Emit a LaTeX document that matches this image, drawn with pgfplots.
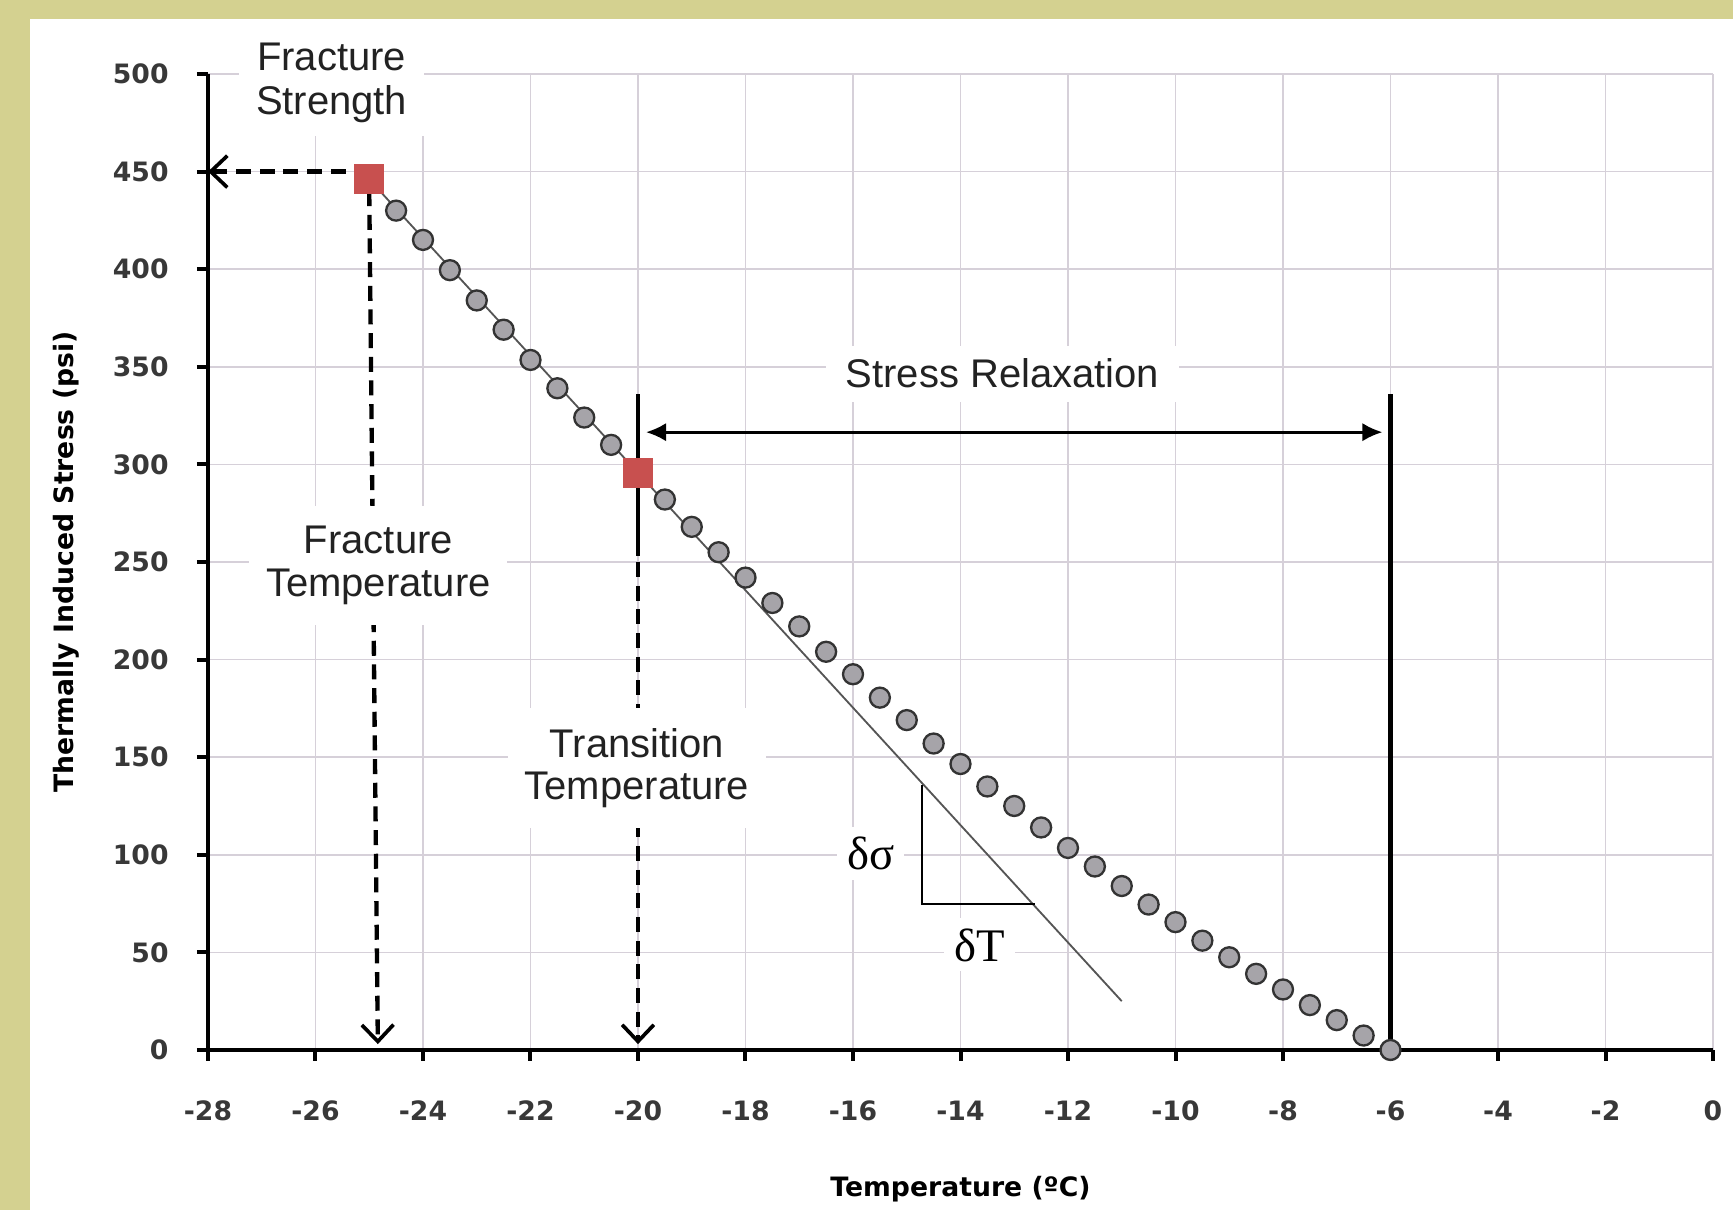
\documentclass[border=0pt]{standalone}
\usepackage{pgfplots}
\pgfplotsset{compat=1.18}
\usepackage{fontspec}
\setmainfont{Liberation Sans}
\newfontfamily\dvs{DejaVu Sans}
\newfontfamily\serif{Liberation Serif}
\usetikzlibrary{arrows.meta}

\definecolor{olive}{HTML}{D4D190}
\definecolor{gridc}{HTML}{D6D0D9}
\definecolor{markfill}{HTML}{A6A4A9}
\definecolor{markedge}{HTML}{333333}
\definecolor{sqred}{HTML}{C8504F}
\definecolor{slope}{HTML}{555555}
\definecolor{txt}{HTML}{222222}

\begin{document}
\begin{tikzpicture}
% page background with olive border strips
\fill[olive] (0,0) rectangle (519.9pt,363pt);
\fill[white] (9pt,0) rectangle (519.9pt,357.3pt);

\begin{axis}[
  at={(62.4pt,48pt)}, anchor=south west,
  width=451.5pt, height=292.8pt, scale only axis,
  xmin=-28, xmax=0, ymin=0, ymax=500,
  xtick={-28,-26,...,0}, ytick={0,50,...,500},
  axis x line*=bottom, axis y line*=left,
  axis line style={line width=1.4pt, black},
  grid=major, major grid style={gridc, line width=0.5pt},
  tick align=outside, major tick length=3.3pt,
  tick style={black, line width=1.2pt},
  /pgf/number format/assume math mode=true,
  ticklabel style={font=\dvs\bfseries\fontsize{8}{9}\selectfont, text=black!78},
  xticklabel style={anchor=center, yshift=-15pt},
  yticklabel style={anchor=east, xshift=-5pt},
  xlabel={Temperature (ºC)},
  ylabel={Thermally Induced Stress (psi)},
  label style={font=\dvs\bfseries\fontsize{8}{9}\selectfont, text=black},
  xlabel style={at={(axis description cs:0.5,-0.143)}, anchor=center},
  ylabel style={at={(axis description cs:-0.094,0.5)}, anchor=center},
  clip=false,
]

% measured thermal stress
\addplot[only marks, mark=*, mark size=3pt,
  mark options={fill=markfill, draw=markedge, line width=0.7pt}]
  coordinates {
  (-24.5,430) (-24,415) (-23.5,399.5) (-23,384) (-22.5,369) (-22,353.5)
  (-21.5,339) (-21,324) (-20.5,310)
  (-19.5,282) (-19,268) (-18.5,255) (-18,242) (-17.5,229) (-17,217)
  (-16.5,204) (-16,192.5) (-15.5,180.5) (-15,169) (-14.5,157) (-14,146.5)
  (-13.5,135) (-13,125) (-12.5,114) (-12,103.5) (-11.5,94) (-11,84)
  (-10.5,74.5) (-10,65.5) (-9.5,56) (-9,47.5) (-8.5,39) (-8,31)
  (-7.5,23) (-7,15.3) (-6.5,7.4) (-6,0)
  };

% fracture and transition points
\addplot[only marks, mark=square*, mark size=4.3pt,
  mark options={fill=sqred, draw=sqred}]
  coordinates {(-25,446) (-20,295.6)};

% linear (elastic) trend
\addplot[slope, line width=0.55pt] coordinates {(-25,446) (-11,25)};

% fracture strength / temperature guides
\draw[black, line width=1.3pt, dash pattern=on 4.5pt off 2.6pt,
  -{Straight Barb[length=5pt, width=9.5pt, line width=1.1pt]}]
  (-25,450) -- (-28,450);
\draw[black, line width=1.3pt, dash pattern=on 4.5pt off 2.6pt,
  -{Straight Barb[length=5pt, width=9.5pt, line width=1.1pt]}]
  (-25,440) -- (-24.84,3);

% transition temperature
\draw[black, line width=1.3pt] (-20,336) -- (-20,253);
\draw[black, line width=1.3pt, dash pattern=on 4.5pt off 2.6pt,
  -{Straight Barb[length=5pt, width=9.5pt, line width=1.1pt]}]
  (-20,250) -- (-20,3);

% stress relaxation span
\draw[black, line width=1.4pt] (-6,336) -- (-6,0);
\draw[black, line width=0.8pt,
  {Latex[length=6pt, width=5.5pt]}-{Latex[length=6pt, width=5.5pt]}]
  (-19.85,316.5) -- (-6.15,316.5);

% labels
\node[fill=white, text=txt, align=center, inner xsep=5pt, inner ysep=4pt,
  font=\fontsize{12}{13.2}\selectfont] at (-25.7,495.5) {Fracture\\Strength};
\node[fill=white, text=txt, align=center, inner xsep=5pt, inner ysep=6pt,
  font=\fontsize{12}{12.8}\selectfont] at (-24.83,248.3) {Fracture\\Temperature};
\node[fill=white, text=txt, align=center, inner xsep=5pt, inner ysep=6pt,
  font=\fontsize{12}{12.8}\selectfont] at (-20.02,144.4) {Transition\\Temperature};
\node[fill=white, text=txt, inner xsep=6pt, inner ysep=4pt,
  font=\fontsize{12}{12.6}\selectfont] at (-13.22,346.5) {Stress Relaxation};

% slope triangle
\draw[black, line width=0.6pt] (-14.72,136) -- (-14.72,74.7) -- (-12.62,74.7);
\node[fill=white, text=black, inner sep=3pt,
  font=\serif\fontsize{14}{14}\selectfont] at (-15.67,100.8) {δσ};
\node[fill=white, text=black, inner sep=3pt,
  font=\serif\fontsize{14}{14}\selectfont] at (-13.65,53.8) {δT};

\end{axis}
\pgfresetboundingbox
\path[use as bounding box] (0,0) rectangle (519.9pt,363pt);
\end{tikzpicture}
\end{document}
